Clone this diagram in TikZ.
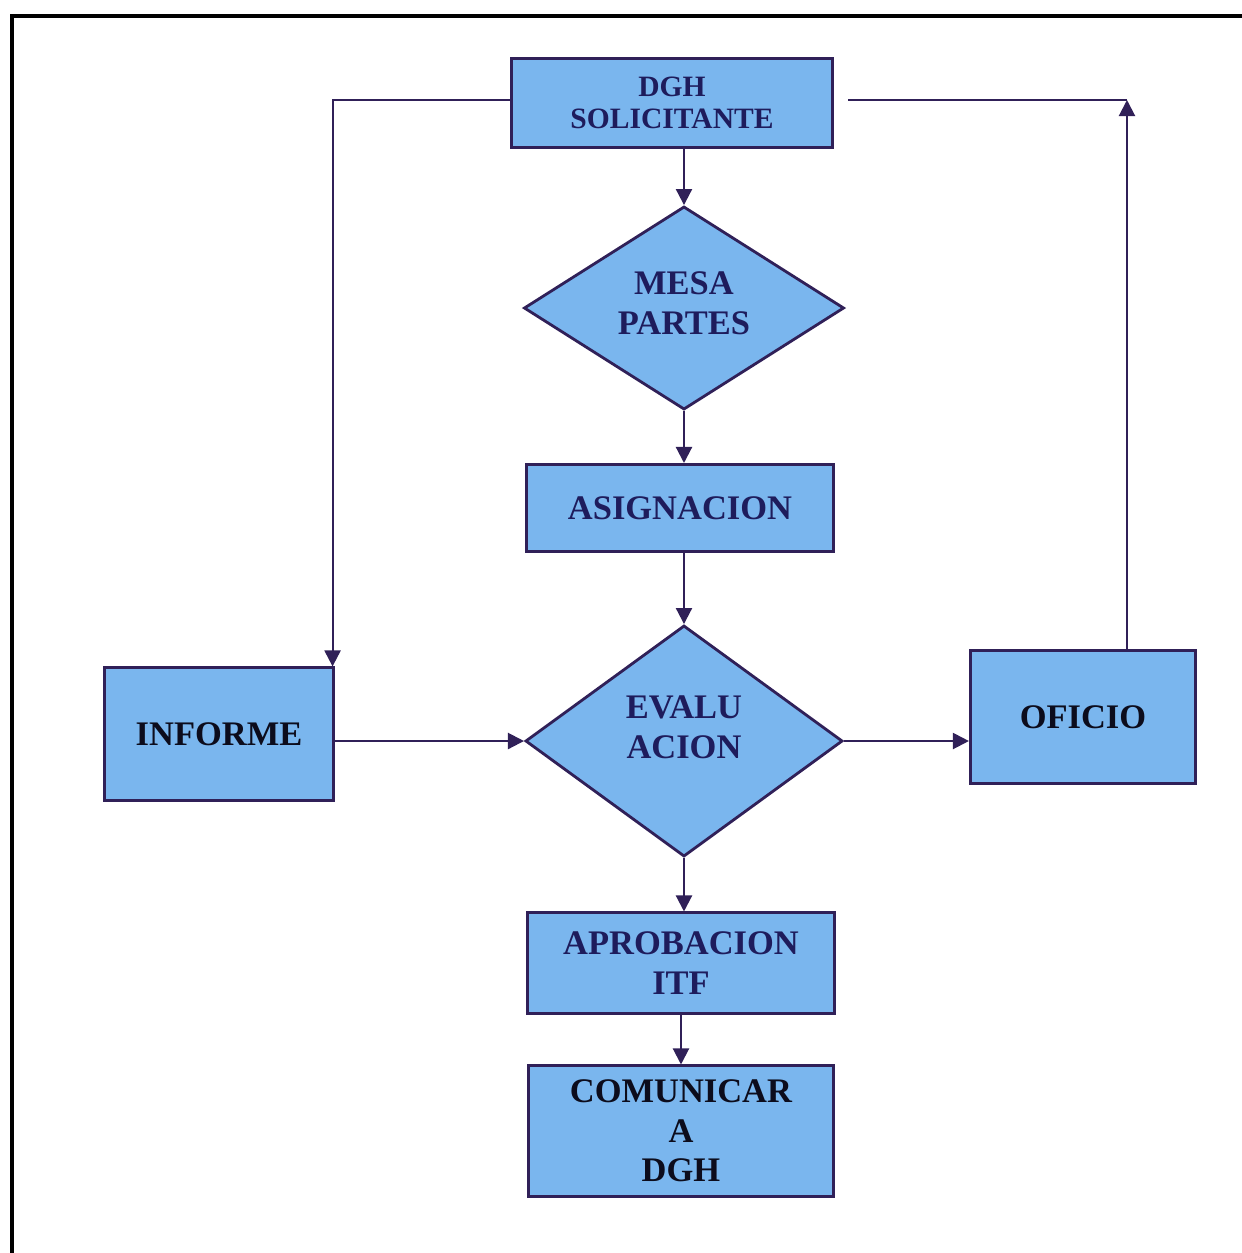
\documentclass[tikz,border=0pt]{standalone}
\usepackage{fontspec}
\setmainfont{Liberation Serif}
\usetikzlibrary{shapes.geometric,arrows.meta}
\definecolor{boxblue}{RGB}{122,182,238}
\definecolor{navy}{RGB}{30,28,92}
\definecolor{ink}{RGB}{12,12,28}
\definecolor{linecol}{RGB}{48,32,88}

\tikzset{
  box/.style={draw=linecol, line width=0.85pt, fill=boxblue, align=center, inner sep=0pt,
    text=navy, font=\bfseries\fontsize{9.8}{11.3}\selectfont},
  decide/.style={diamond, draw=linecol, line width=0.8pt, fill=boxblue, align=center, inner sep=0pt,
    text=navy, font=\bfseries\fontsize{9.8}{11.3}\selectfont},
  flow/.style={draw=linecol, line width=0.6pt, -{Triangle[length=0.16cm,width=0.16cm]}},
  link/.style={draw=linecol, line width=0.6pt},
}

\begin{document}
\begin{tikzpicture}[x=0.01cm,y=-0.01cm]
\useasboundingbox (0,0) rectangle (1242,1253);
\draw[line width=1.1pt] (1242,16) -- (12,16) -- (12,1253);

\node[box, minimum width=3.21cm, minimum height=0.88cm, font=\bfseries\fontsize{8.4}{9.1}\selectfont] (dgh) at (672,103) {DGH\\SOLICITANTE};
\node[decide, minimum width=3.2cm, minimum height=2.03cm, aspect=1.58, text depth=0.1cm] (mesa) at (684,308) {MESA\\PARTES};
\node[box, minimum width=3.06cm, minimum height=0.87cm] (asig) at (680,508) {ASIGNACION};
\node[decide, minimum width=3.17cm, minimum height=2.31cm, aspect=1.37, text depth=0.28cm] (eval) at (684,741) {EVALU\\ACION};
\node[box, minimum width=2.28cm, minimum height=1.32cm, text=ink] (informe) at (219,734) {INFORME};
\node[box, minimum width=2.25cm, minimum height=1.32cm, text=ink] (oficio) at (1083,717) {OFICIO};
\node[box, minimum width=3.06cm, minimum height=1.00cm] (aprob) at (681,963) {APROBACION\\ITF};
\node[box, minimum width=3.05cm, minimum height=1.30cm, text=ink] (comun) at (681,1131) {COMUNICAR\\A\\DGH};

\coordinate (ret) at (1127,100);

\draw[flow] (dgh.south -| mesa.north) -- (mesa.north);
\draw[flow] (mesa.south) -- (mesa.south |- asig.north);
\draw[flow] (asig.south -| eval.north) -- (eval.north);
\draw[flow] (eval.south) -- (eval.south |- aprob.north);
\draw[flow] (aprob.south) -- (aprob.south |- comun.north);
\draw[flow] (eval.west -| informe.east) -- (eval.west);
\draw[flow] (eval.east) -- (eval.east -| oficio.west);
\draw[flow] (dgh.west |- ret) -| ([xshift=-0.02cm]informe.north east);
\draw[flow] (oficio.north -| ret) -- (ret);
\draw[link, shorten >=0.14cm] (ret) -- (ret -| dgh.east);
\end{tikzpicture}
\end{document}
